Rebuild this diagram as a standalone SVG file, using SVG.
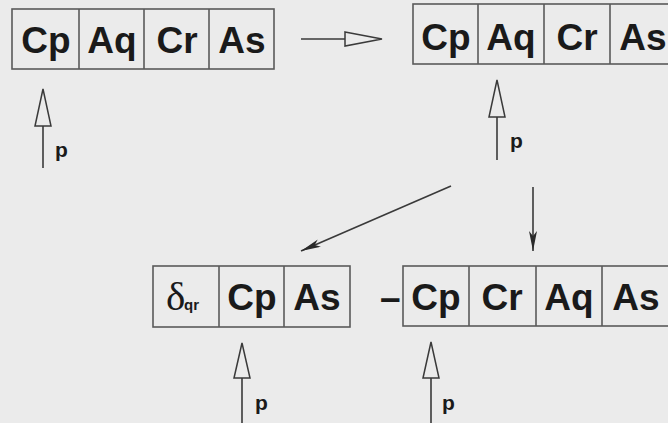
<svg xmlns="http://www.w3.org/2000/svg" width="668" height="423" viewBox="0 0 668 423">
<defs>
<style>
.cell{fill:none;stroke:#5a5a5a;stroke-width:1.6}
.lbl{font-family:"Liberation Sans",Arial,sans-serif;font-weight:bold;font-size:37px;fill:#1a1a1a;text-anchor:middle}
.p{font-family:"Liberation Sans",Arial,sans-serif;font-weight:bold;font-size:21px;fill:#1a1a1a}
.ln{stroke:#3a3a3a;stroke-width:1.6;fill:none}
.hollow{fill:none;stroke:#3a3a3a;stroke-width:1.5}
</style>
<marker id="fa" viewBox="0 0 20 8" refX="20" refY="4" markerWidth="20" markerHeight="8" markerUnits="userSpaceOnUse" orient="auto">
<path d="M0,0 L20,4 L0,8 L5,4 z" fill="#2a2a2a"/>
</marker>
</defs>
<rect width="668" height="423" fill="#ebebeb"/>

<g id="list1">
<rect class="cell" x="12" y="9" width="262" height="60"/>
<line class="cell" x1="79" y1="9" x2="79" y2="69"/>
<line class="cell" x1="144" y1="9" x2="144" y2="69"/>
<line class="cell" x1="209" y1="9" x2="209" y2="69"/>
<text class="lbl" x="46" y="53">Cp</text>
<text class="lbl" x="112" y="53">Aq</text>
<text class="lbl" x="177" y="53">Cr</text>
<text class="lbl" x="242" y="53">As</text>
</g>

<g id="list2">
<rect class="cell" x="413" y="4" width="264" height="60"/>
<line class="cell" x1="478" y1="4" x2="478" y2="64"/>
<line class="cell" x1="544" y1="4" x2="544" y2="64"/>
<line class="cell" x1="610" y1="4" x2="610" y2="64"/>
<text class="lbl" x="446" y="50">Cp</text>
<text class="lbl" x="511" y="50">Aq</text>
<text class="lbl" x="577" y="50">Cr</text>
<text class="lbl" x="643" y="50">As</text>
</g>

<g id="list3">
<rect class="cell" x="153" y="266" width="197" height="61"/>
<line class="cell" x1="219" y1="266" x2="219" y2="327"/>
<line class="cell" x1="284" y1="266" x2="284" y2="327"/>
<text x="166" y="310" font-family="'Liberation Serif','Times New Roman',serif" font-size="41" fill="#1a1a1a">δ</text>
<text x="184" y="310" font-family="'Liberation Sans',Arial,sans-serif" font-weight="bold" font-size="15" fill="#1a1a1a">qr</text>
<text class="lbl" x="252" y="310">Cp</text>
<text class="lbl" x="317" y="310">As</text>
</g>

<g id="dash">
<text x="380" y="310" font-family="'Liberation Sans',Arial,sans-serif" font-weight="bold" font-size="37" fill="#1a1a1a">–</text>
</g>

<g id="list4">
<rect class="cell" x="403" y="266" width="270" height="60"/>
<line class="cell" x1="469" y1="266" x2="469" y2="326"/>
<line class="cell" x1="536" y1="266" x2="536" y2="326"/>
<line class="cell" x1="602" y1="266" x2="602" y2="326"/>
<text class="lbl" x="436" y="310">Cp</text>
<text class="lbl" x="502" y="310">Cr</text>
<text class="lbl" x="569" y="310">Aq</text>
<text class="lbl" x="636" y="310">As</text>
</g>

<g id="connectors">
<line class="ln" x1="301" y1="39" x2="345" y2="39"/>
<path class="hollow" d="M345,32 L382,39 L345,46 z"/>
<line class="ln" x1="451" y1="186" x2="301" y2="251" marker-end="url(#fa)"/>
<line class="ln" x1="533" y1="187" x2="533" y2="251" marker-end="url(#fa)" stroke-width="1.2"/>
<g id="ptr1">
<line class="ln" x1="43" y1="126" x2="43" y2="168"/>
<path class="hollow" d="M35,126 L43,89 L51,126 z"/>
<text class="p" x="55" y="157">p</text>
</g>
<g id="ptr2">
<line class="ln" x1="497" y1="117" x2="497" y2="160"/>
<path class="hollow" d="M489,117 L497,80 L505,117 z"/>
<text class="p" x="510" y="148">p</text>
</g>
<g id="ptr3">
<line class="ln" x1="242" y1="378" x2="242" y2="423"/>
<path class="hollow" d="M234,378 L242,343 L250,378 z"/>
<text class="p" x="255" y="410">p</text>
</g>
<g id="ptr4">
<line class="ln" x1="431" y1="378" x2="431" y2="423"/>
<path class="hollow" d="M423,378 L431,342 L439,378 z"/>
<text class="p" x="442" y="410">p</text>
</g>
</g>
</svg>
